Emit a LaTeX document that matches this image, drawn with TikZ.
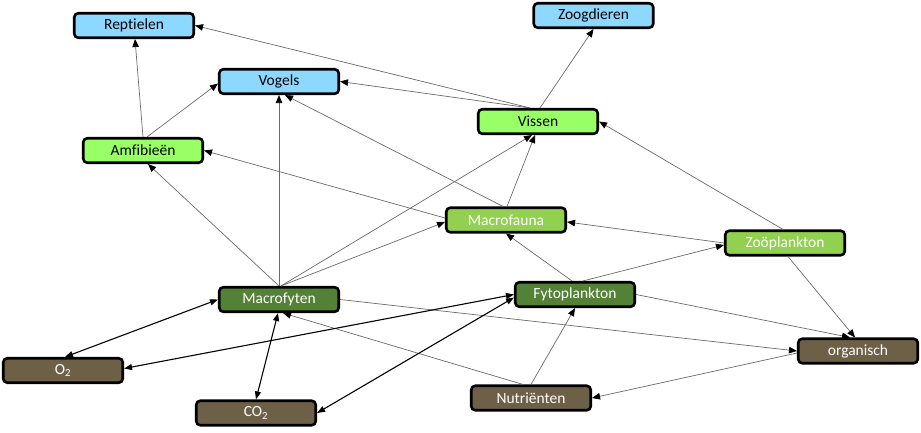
\documentclass[tikz,border=0pt]{standalone}
\usepackage{fontspec}
\setmainfont{Carlito}[Ligatures=NoCommon]
\usetikzlibrary{arrows.meta}
\definecolor{cblue}{HTML}{8DD8FF}
\definecolor{clgreen}{HTML}{99FF66}
\definecolor{cmgreen}{HTML}{92D050}
\definecolor{cdgreen}{HTML}{538135}
\definecolor{cbrown}{HTML}{6E5F47}
\definecolor{linkgray}{HTML}{6A6A6A}
\begin{document}
\begin{tikzpicture}[x=1pt,y=-1pt,
  box/.style={draw=black, line width=2.6pt, rounded corners=4pt, minimum width=119.5pt, minimum height=24.5pt, inner sep=0pt, font=\fontsize{15.5}{18}\selectfont},
  blu/.style={box, fill=cblue, text=black},
  lgr/.style={box, fill=clgreen, text=black},
  mgr/.style={box, fill=cmgreen, text=white},
  dgr/.style={box, fill=cdgreen, text=white},
  brn/.style={box, fill=cbrown, text=white},
  link/.style={draw=linkgray, line width=0.7pt, -{Triangle[length=8pt,width=6.5pt,color=black]}},
  blink/.style={draw=black, line width=1.1pt, {Triangle[length=8pt,width=6pt]}-{Triangle[length=8pt,width=6pt]}}
]
\useasboundingbox (0,0) rectangle (921,433);
% nodes
\node[blu] (rep) at (134,25.5) {Reptielen};
\node[blu] (vog) at (279,81.5) {Vogels};
\node[blu] (zoo) at (593.5,15.5) {Zoogdieren};
\node[lgr] (amf) at (143,150.5) {Amfibieën};
\node[lgr] (vis) at (538,121.5) {Vissen};
\node[mgr] (mfa) at (506,220) {Macrofauna};
\node[mgr] (zpl) at (785,243) {Zoöplankton};
\node[dgr] (mfy) at (279,299.5) {Macrofyten};
\node[dgr] (fyt) at (575,294.5) {Fytoplankton};
\node[brn] (o2) at (63,370.5) {O\textsubscript{2}};
\node[brn] (co2) at (256,413) {CO\textsubscript{2}};
\node[brn] (nut) at (531,398) {Nutriënten};
\node[brn] (org) at (858,351) {organisch};
% grey links
\draw[link] ([xshift=-8pt]vis.north) -- (rep.east);
\draw[link] ([xshift=-8pt]vis.north) -- (vog.east);
\draw[link] ([xshift=2pt]vis.north) -- (zoo.south);
\draw[link] (amf.north) -- ([xshift=1pt]rep.south);
\draw[link] ([xshift=4pt]amf.north) -- ([yshift=-2pt]vog.west);
\draw[link] (mfy.north) -- (vog.south);
\draw[link] ([xshift=-3pt]mfa.north) -- ([xshift=6pt]vog.south);
\draw[link] ([yshift=2pt]mfa.west) -- (amf.east);
\draw[link] (mfy.north) -- ([xshift=5pt]amf.south);
\draw[link] ([xshift=2pt]mfy.north) -- ([xshift=-6pt]vis.south);
\draw[link] ([xshift=2pt]mfy.north) -- ([yshift=-2pt]mfa.west);
\draw[link] ([xshift=1pt]mfa.north) -- ([xshift=-3pt]vis.south);
\draw[link] ([xshift=-2pt]zpl.north) -- (vis.east);
\draw[link] (zpl.west) -- ([yshift=-2pt]mfa.east);
\draw[link] ([xshift=-3pt]fyt.north) -- (mfa.south);
\draw[link] ([xshift=8pt]fyt.north) -- ([yshift=-2pt]zpl.west);
\draw[link] ([xshift=3pt]zpl.south) -- ([xshift=-3pt]org.north);
\draw[link] (fyt.east) -- ([xshift=-8pt]org.north);
\draw[link] (mfy.east) -- (org.west);
\draw[link] ([yshift=-2pt]org.west) -- (nut.east);
\draw[link] (nut.north) -- (fyt.south);
\draw[link] ([xshift=-8pt]nut.north) -- ([xshift=4pt]mfy.south);
% black double links
\draw[blink] (mfy.west) -- ([xshift=2pt]o2.north);
\draw[blink] ([xshift=-1pt]mfy.south) -- (co2.north);
\draw[blink] (fyt.west) -- ([yshift=2pt]o2.east);
\draw[blink] ([yshift=-3pt]fyt.west) -- (co2.east);
\end{tikzpicture}
\end{document}
